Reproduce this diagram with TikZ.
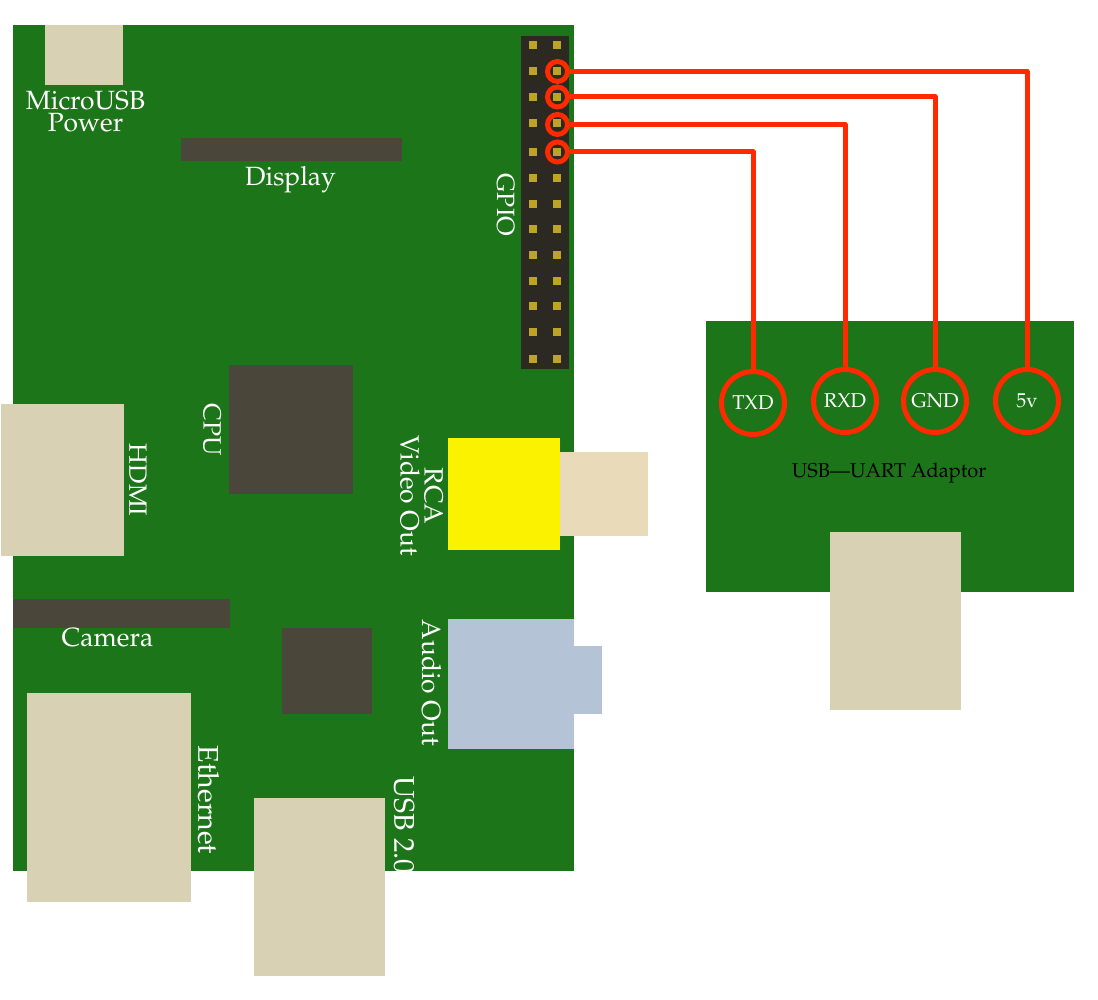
\documentclass[tikz,border=0pt]{standalone}
\usepackage[T1]{fontenc}
\usepackage{mathpazo}
\usetikzlibrary{positioning}
\definecolor{board}{HTML}{1D7519}
\definecolor{metal}{HTML}{D8D1B4}
\definecolor{chip}{HTML}{4A473A}
\definecolor{header}{HTML}{2B2921}
\definecolor{pin}{HTML}{BDA428}
\definecolor{wirered}{HTML}{FF2A00}
\definecolor{rcaback}{HTML}{E9DBBA}
\definecolor{rcafront}{HTML}{FBF200}
\definecolor{audio}{HTML}{B5C3D6}

\begin{document}
\begin{tikzpicture}[x=1pt,y=-1pt]
    % `part' is any flat block, placed by its top left corner.
    % `biglabel', `tightlabel', `widelabel' and `smalllabel' are the text sizes.
    \tikzstyle{part} = [anchor=north west,inner sep=0pt,outer sep=0pt]
    \tikzstyle{biglabel} = [text=white,align=center,inner sep=0pt,font=\fontsize{26.4}{22}\selectfont]
    \tikzstyle{tightlabel} = [text=white,align=center,inner sep=0pt,font=\fontsize{25}{22}\selectfont]
    \tikzstyle{widelabel} = [text=white,align=center,inner sep=0pt,font=\fontsize{28.6}{22}\selectfont]
    \tikzstyle{smalllabel} = [align=center,inner sep=0pt,font=\fontsize{20}{22}\selectfont]
    \tikzstyle{ring} = [draw=wirered,line width=5pt,circle,inner sep=0pt,minimum size=20pt]
    \tikzstyle{terminal} = [draw=wirered,line width=5pt,circle,inner sep=0pt,minimum size=63pt,text=white]
    \tikzstyle{wire} = [draw=wirered,line width=5pt,line join=round]
    \useasboundingbox (0,0) rectangle (1098,1000);

    % Main board.
    \node[part,fill=board,minimum width=561pt,minimum height=846pt] (board) at (13,25) {};
    \node[part,fill=metal,minimum width=78pt,minimum height=60pt] (microusb) at (45,25) {};
    \node[part,fill=chip,minimum width=221pt,minimum height=23pt] (display) at (181,138) {};
    \node[part,fill=header,minimum width=48pt,minimum height=333pt] (gpio) at (521,36) {};
    \node[part,fill=chip,minimum width=124pt,minimum height=129pt] (cpu) at (229,365) {};
    \node[part,fill=metal,minimum width=123pt,minimum height=152pt] (hdmi) at (1,404) {};
    \node[part,fill=rcaback,minimum width=88pt,minimum height=84pt] (rcaplug) at (560,452) {};
    \node[part,fill=rcafront,minimum width=112pt,minimum height=112pt] (rca) at (448,438) {};
    \node[part,fill=audio,minimum width=28pt,minimum height=68pt] (jack) at (574,646) {};
    \node[part,fill=audio,minimum width=126pt,minimum height=130pt] (audio) at (448,619) {};
    \node[part,fill=chip,minimum width=217pt,minimum height=29pt] (camera) at (13,599) {};
    \node[part,fill=chip,minimum width=90pt,minimum height=86pt] (lan) at (282,628) {};
    \node[part,fill=metal,minimum width=164pt,minimum height=209pt] (ethernet) at (27,693) {};
    \node[part,fill=metal,minimum width=131pt,minimum height=178pt] (usb) at (254,798) {};

    % GPIO pins.
    \foreach \row/\y in {1/45,2/71,3/97,4/123,5/152,6/178,7/204,8/229,9/255,10/281,11/306,12/332,13/359} {
      \node[fill=pin,minimum size=8pt,inner sep=0pt] (pinl\row) at (533,\y) {};
      \node[fill=pin,minimum size=8pt,inner sep=0pt] (pinr\row) at (557,\y) {};
    }

    % Labels on the board.
    \node[biglabel] (microusblabel) at (85.5,111.5) {MicroUSB\\Power};
    \node[biglabel] (displaylabel) at (290.5,180) {Display};
    \node[tightlabel,rotate=-90] (gpiolabel) at (505.5,205) {GPIO};
    \node[tightlabel,rotate=-90] (cpulabel) at (212,430) {CPU};
    \node[tightlabel,rotate=-90] (hdmilabel) at (138,480) {HDMI};
    \node[biglabel,rotate=-90] (rcalabel) at (421.5,496) {RCA\\[2pt]Video Out};
    \node[biglabel,rotate=-90] (audiolabel) at (431.5,683) {Audio Out};
    \node[biglabel] (cameralabel) at (107.5,638) {Camera};
    \node[widelabel,rotate=-90] (ethernetlabel) at (208.5,800) {Ethernet};
    \node[widelabel,rotate=-90] (usblabel) at (404,825) {USB 2.0};

    % Adaptor board.
    \node[part,fill=board,minimum width=368pt,minimum height=271pt] (adaptor) at (706,321) {};
    \node[part,fill=metal,minimum width=131pt,minimum height=178pt] (adaptorusb) at (830,532) {};
    \node[smalllabel] (adaptorlabel) at (889,473) {USB---UART Adaptor};
    \node[terminal,smalllabel] (txd) at (753,403) {TXD};
    \node[terminal,smalllabel] (rxd) at (845,401) {\raisebox{-1pt}{RXD}};
    \node[terminal,smalllabel] (gnd) at (935,401) {\raisebox{-1pt}{GND}};
    \node[terminal,smalllabel] (five) at (1027,401) {\raisebox{-1pt}{5v}};

    % Rings round the four used pins.
    \node[ring] (ring1) at (557.5,71.5) {};
    \node[ring] (ring2) at (557.5,97) {};
    \node[ring] (ring3) at (557.5,124.5) {};
    \node[ring] (ring4) at (557.5,152) {};

    % Draw lines.
    \draw[wire] (ring1.east) -| (five.north);
    \draw[wire] (ring2.east) -| (gnd.north);
    \draw[wire] (ring3.east) -| (rxd.north);
    \draw[wire] (ring4.east) -| (txd.north);
\end{tikzpicture}
\end{document}
